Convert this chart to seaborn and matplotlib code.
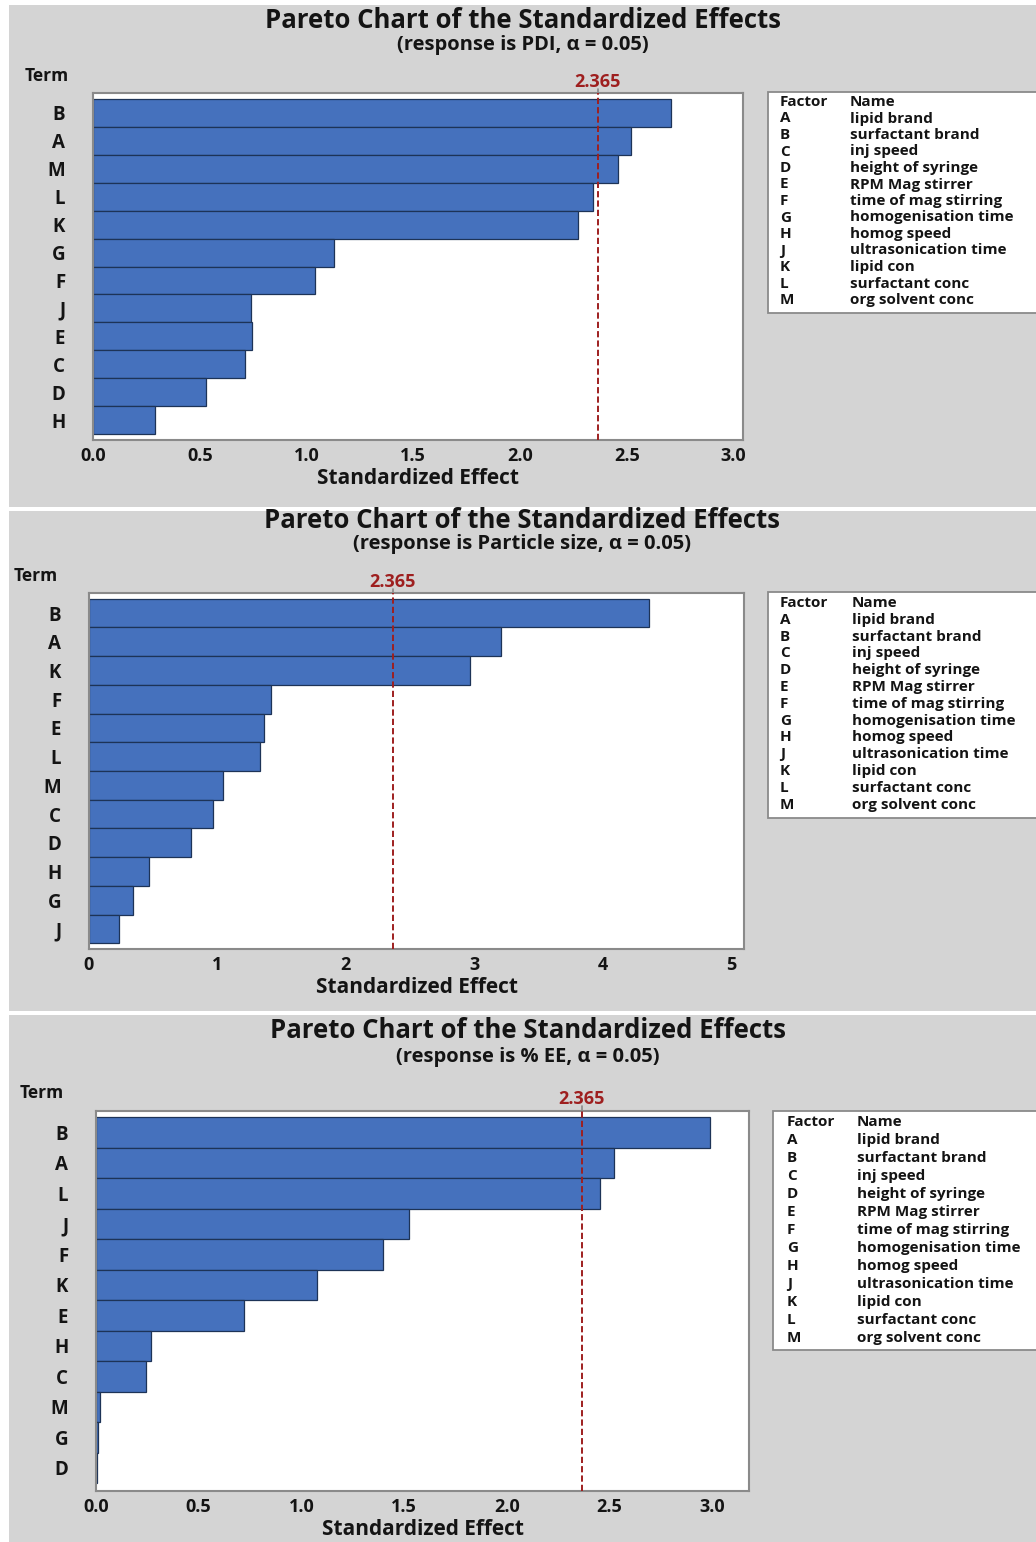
import numpy as np
import pandas as pd
import matplotlib
matplotlib.use("Agg")
import matplotlib.pyplot as plt
import matplotlib.transforms as mtransforms
from matplotlib.patches import Rectangle
from matplotlib.lines import Line2D
import seaborn as sns

sns.set_theme(style="white")
plt.rcParams["font.family"] = ["Open Sans", "DejaVu Sans"]

# ---- data -------------------------------------------------------------
factor_codes = ["A", "B", "C", "D", "E", "F", "G", "H", "J", "K", "L", "M"]
factor_names = ["lipid brand", "surfactant brand", "inj speed", "height of syringe",
                "RPM Mag stirrer", "time of mag stirring", "homogenisation time",
                "homog speed", "ultrasonication time", "lipid con",
                "surfactant conc", "org solvent conc"]

pdi_terms = ["B", "A", "M", "L", "K", "G", "F", "J", "E", "C", "D", "H"]
pdi_effects = [2.71, 2.52, 2.46, 2.34, 2.27, 1.13, 1.04, 0.74, 0.745, 0.71, 0.53, 0.29]

size_terms = ["B", "A", "K", "F", "E", "L", "M", "C", "D", "H", "G", "J"]
size_effects = [4.36, 3.21, 2.97, 1.42, 1.36, 1.33, 1.045, 0.965, 0.795, 0.47, 0.345, 0.23]

ee_terms = ["B", "A", "L", "J", "F", "K", "E", "H", "C", "M", "G", "D"]
ee_effects = [2.99, 2.525, 2.455, 1.525, 1.40, 1.075, 0.72, 0.27, 0.245, 0.02, 0.01, 0.007]

responses = ["PDI", "Particle size", "% EE"]
alpha = 0.05
critical_t = 2.365

# ---- styling ----------------------------------------------------------
W, H = 1036, 1542
BG = "#d4d4d4"
BAR = "#4571bd"
BAR_EDGE = "#1d3357"
REF = "#9e1f1f"
SPINE = "#8a8a8a"
TXT = "#141414"


def fx(px):
    return px / W


def fy(py):
    return 1 - py / H


def ax_rect(x0, y0, x1, y1):
    return [x0 / W, 1 - y1 / H, (x1 - x0) / W, (y1 - y0) / H]


panels = [
    dict(terms=pdi_terms, effects=pdi_effects, response=responses[0],
         bg=(9, 5, 1036, 507), axes=(93, 93, 743, 440), xmax=3.045,
         ticks=np.arange(0, 3.01, 0.5), fmt="{:.1f}", ylim=(11.7, -0.7),
         title_y=20, sub_y=45, title_x=523, term=(47, 76), crit_y=91,
         legend=(768, 92, 1040, 313), fac_x=780, name_x=850, row0=102, drow=16.5),
    dict(terms=size_terms, effects=size_effects, response=responses[1],
         bg=(9, 511, 1036, 1011), axes=(89, 593, 744, 949), xmax=5.1,
         ticks=np.arange(0, 5.01, 1), fmt="{:.0f}", ylim=(11.7, -0.7),
         title_y=520, sub_y=544, title_x=522, term=(36, 576), crit_y=591,
         legend=(768, 592, 1040, 818), fac_x=780, name_x=852, row0=603, drow=16.8),
    dict(terms=ee_terms, effects=ee_effects, response=responses[2],
         bg=(9, 1015, 1036, 1542), axes=(96, 1111, 749, 1491), xmax=3.18,
         ticks=np.arange(0, 3.01, 0.5), fmt="{:.1f}", ylim=(11.76, -0.7),
         title_y=1031, sub_y=1057, title_x=528, term=(42, 1093), crit_y=1108,
         legend=(773, 1111, 1040, 1350), fac_x=787, name_x=857, row0=1122, drow=18.0),
]

fig = plt.figure(figsize=(W / 100, H / 100), dpi=100)
fig.patch.set_facecolor("white")

for p in panels:
    x0, y0, x1, y1 = p["bg"]
    fig.patches.append(Rectangle((fx(x0), fy(y1)), fx(x1 - x0), (y1 - y0) / H,
                                 transform=fig.transFigure, facecolor=BG,
                                 edgecolor="none", zorder=-10))

    ax = fig.add_axes(ax_rect(*p["axes"]))
    df = pd.DataFrame({"Term": p["terms"], "Effect": p["effects"]})
    sns.barplot(data=df, x="Effect", y="Term", order=p["terms"], orient="h",
                color=BAR, saturation=1, width=1.0, edgecolor=BAR_EDGE,
                linewidth=0.9, ax=ax)
    ax.set_facecolor("white")
    ax.set_xlim(0, p["xmax"])
    ax.set_ylim(*p["ylim"])

    # critical value reference line
    ax.axvline(critical_t, color=REF, lw=1.4, ls=(0, (3.2, 1.6)), zorder=3)
    trans = mtransforms.blended_transform_factory(ax.transData, ax.transAxes)
    ax.add_line(Line2D([critical_t, critical_t], [1.0, 1.012], transform=trans,
                       color=SPINE, lw=1.2, clip_on=False))
    fig.text(fx(p["axes"][0]) + (critical_t / p["xmax"]) * fx(p["axes"][2] - p["axes"][0]),
             fy(p["crit_y"]), f"{critical_t:.3f}", color=REF, fontsize=13,
             fontweight="bold", ha="center", va="bottom")

    ax.set_xticks(p["ticks"])
    ax.set_xticklabels([p["fmt"].format(t) for t in p["ticks"]])
    ax.tick_params(axis="both", which="both", direction="out", length=4,
                   width=1.0, color=SPINE, labelcolor=TXT, labelsize=13, pad=1)
    ax.tick_params(axis="y", pad=16, labelsize=13.5)
    for lab in ax.get_xticklabels() + ax.get_yticklabels():
        lab.set_fontweight("bold")
    for side in ["left", "right", "top", "bottom"]:
        ax.spines[side].set_visible(True)
        ax.spines[side].set_color(SPINE)
        ax.spines[side].set_linewidth(1.5)
    ax.set_ylabel("")
    ax.set_xlabel("Standardized Effect", fontsize=15, fontweight="bold",
                  color=TXT, labelpad=2)

    # titles
    fig.text(fx(p["title_x"]), fy(p["title_y"]),
             "Pareto Chart of the Standardized Effects", fontsize=18.5,
             fontweight="bold", color=TXT, ha="center", va="center")
    fig.text(fx(p["title_x"]), fy(p["sub_y"]),
             f"(response is {p['response']}, \u03b1 = {alpha:.2f})", fontsize=14.5,
             fontweight="bold", color=TXT, ha="center", va="center")
    fig.text(fx(p["term"][0]), fy(p["term"][1]), "Term", fontsize=12.5,
             fontweight="bold", color=TXT, ha="center", va="center")

    # factor key
    lx0, ly0, lx1, ly1 = p["legend"]
    fig.patches.append(Rectangle((fx(lx0), fy(ly1)), fx(lx1 - lx0), (ly1 - ly0) / H,
                                 transform=fig.transFigure, facecolor="white",
                                 edgecolor=SPINE, lw=1.3, zorder=1))
    rows = [("Factor", "Name")] + list(zip(factor_codes, factor_names))
    for i, (code, name) in enumerate(rows):
        yy = fy(p["row0"] + i * p["drow"])
        fig.text(fx(p["fac_x"]), yy, code, fontsize=11, fontweight="bold",
                 color=TXT, ha="left", va="center", zorder=2)
        fig.text(fx(p["name_x"]), yy, name, fontsize=11, fontweight="bold",
                 color=TXT, ha="left", va="center", zorder=2)

fig.savefig("out.png", dpi=100, facecolor=fig.get_facecolor())
